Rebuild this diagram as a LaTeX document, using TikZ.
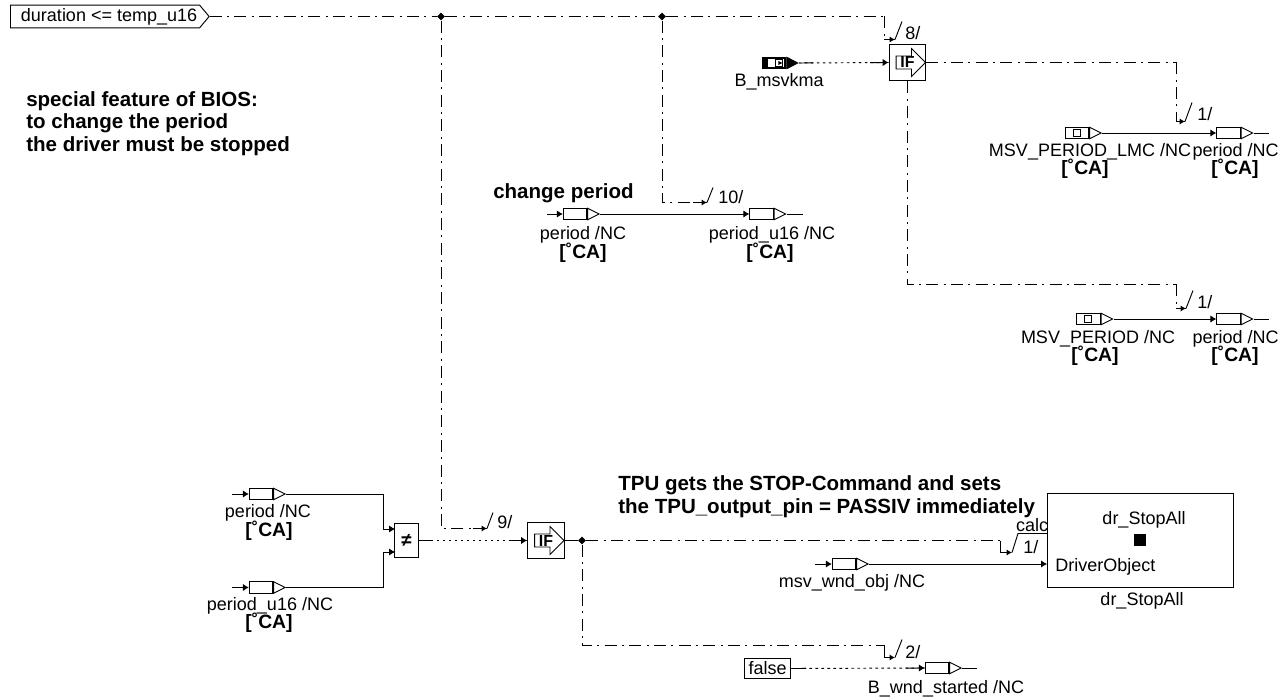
\documentclass[tikz,border=0pt]{standalone}
\usepackage{fontspec}
\setmainfont{Liberation Sans}
\usetikzlibrary{arrows.meta,positioning,shapes.geometric,shapes.symbols,shapes.arrows}
\tikzset{
  txt/.style={font=\fontsize{13.5}{15}\selectfont,inner sep=0pt,yshift=-1.2pt},
  boldtxt/.style={font=\bfseries\fontsize{15.4}{17}\selectfont,inner sep=0pt,align=left},
  unit/.style={font=\bfseries\fontsize{14.5}{16}\selectfont,inner sep=0pt,yshift=-0.7pt},
  sigrect/.style={draw=black,fill=white,line width=0.7pt,minimum width=17.5pt,minimum height=8.6pt,inner sep=0pt},
  sigtip/.style={draw=black,fill=white,line width=0.7pt,isosceles triangle,isosceles triangle stretches,
    minimum width=8.6pt,minimum height=8.6pt,inner sep=0pt,anchor=lower side},
  smallsq/.style={draw=black,fill=white,line width=0.5pt,minimum size=5.5pt,inner sep=0pt},
  blockbox/.style={draw=black,fill=white,line width=0.8pt,minimum width=27.5pt,minimum height=27.5pt,inner sep=0pt},
  ifarrow/.style={draw=black,fill=white,line width=0.6pt,single arrow,single arrow head extend=5pt,
    minimum height=22pt,minimum width=21pt,inner sep=0pt,font=\bfseries\fontsize{12}{13}\selectfont},
  junction/.style={diamond,fill=black,minimum size=6pt,inner sep=0pt},
  solidflow/.style={-{Latex[length=4.5pt,width=5.5pt]},draw=black,line width=0.7pt},
  tailflow/.style={draw=black,line width=0.7pt},
  ctrlflow/.style={draw=black,line width=0.7pt,dash pattern=on 9pt off 4pt on 1.5pt off 4pt},
  seqtip/.style={-{Latex[length=4pt,width=4.5pt]},draw=black,line width=0.7pt},
  seqslash/.style={draw=black,line width=0.7pt},
  dotflow/.style={-{Latex[length=4.5pt,width=5.5pt]},draw=black,line width=0.7pt,dash pattern=on 2pt off 2.5pt,
    postaction={draw,solid,-,shorten >=#1pt-11pt},
    postaction={draw,solid,-,shorten <=#1pt-14pt}}
}
\begin{document}
\begin{tikzpicture}[x=0.75pt,y=-0.75pt]
\useasboundingbox (0,0) rectangle (1287,698);
% top input and its branches
\node[draw=black,line width=0.7pt,signal,signal to=east,signal pointer angle=100,minimum width=149pt,minimum height=17pt,
  inner sep=0pt,font=\fontsize{13.5}{15}\selectfont,anchor=west] (duration) at (10,16.5) {\hspace*{6pt}duration <= temp\_u16};
\node[boldtxt,anchor=north west] (biosnote) at (26,91) {special feature of BIOS:\\to change the period\\the driver must be stopped};
\node[junction] (jleft) at (441,16.5) {};
\node[junction] (jmid) at (662,16.5) {};
\coordinate (topend) at (884.5,16.5);
\draw[ctrlflow] (duration.east)--(jleft);
\draw[ctrlflow] (jleft)--(jmid);
\draw[ctrlflow] (jmid)--(topend);
% first IF block
\coordinate (tick8) at (895,39.5);
\draw[ctrlflow] (topend)|-(tick8);
\draw[seqtip] (tick8)++(-11,0)--(tick8);
\draw[seqslash] (tick8)--++(7,-18);
\node[txt,anchor=west] (seq8) at (905,31) {8/};
\node[blockbox] (iftop) at (907.5,62.5) {};
\node[ifarrow] (iftopa) at (907.5,62.5) {IF};
\node[draw=black,fill=white,line width=1.5pt,minimum width=17pt,minimum height=8pt,inner sep=0pt] (bmsv) at (774,63) {};
\node[fill=black,minimum width=5pt,minimum height=9pt,inner sep=0pt] (bmsvk) at (765,63) {};
\node[draw=black,fill=black,isosceles triangle,isosceles triangle stretches,minimum width=9pt,minimum height=8.6pt,inner sep=0pt,anchor=lower side] (bmsvt) at (bmsv.east) {};
\node[smallsq] (bmsvs) at (779,63) {};
\node[fill=black,isosceles triangle,isosceles triangle stretches,minimum width=3pt,minimum height=3pt,inner sep=0pt] (bmsva) at (779.5,63) {};
\node[txt] (bmsvl) at (779,80) {B\_msvkma};
\draw[dotflow=67.5] (bmsvt.apex)--(iftop.west);
% upper right output
\coordinate (ifright) at (1176.5,62.5);
\coordinate (tick1a) at (1185,121.5);
\draw[ctrlflow] (iftop.east)--(ifright);
\draw[ctrlflow] (ifright)|-(tick1a);
\draw[seqtip] (tick1a)++(-9,0)--(tick1a);
\draw[seqslash] (tick1a)--++(7,-19);
\node[txt,anchor=west] (seq1a) at (1197,112) {1/};
\node[sigrect] (lmc) at (1077,133) {};
\node[sigtip] (lmct) at (lmc.east) {};
\node[smallsq] (lmcs) at (1077,133) {};
\node[txt] (lmcl) at (1090,150) {MSV\_PERIOD\_LMC /NC};
\node[unit] (lmcu) at (1085,168) {[˚CA]};
\node[sigrect] (pera) at (1228.5,133) {};
\node[sigtip] (perat) at (pera.east) {};
\coordinate (peraend) at (1269,133);
\node[txt] (peral) at (1235.5,150) {period /NC};
\node[unit] (perau) at (1235,168) {[˚CA]};
\draw[solidflow] (lmct.apex)--(pera.west);
\draw[tailflow] (perat.apex)--(peraend);
% lower right output
\coordinate (ifdown) at (907.5,284.5);
\coordinate (ifdownr) at (1176.5,284.5);
\coordinate (tick1b) at (1186,308.5);
\draw[ctrlflow] (iftop.south)--(ifdown)--(ifdownr);
\draw[ctrlflow] (ifdownr)|-(tick1b);
\draw[seqtip] (tick1b)++(-10,0)--(tick1b);
\draw[seqslash] (tick1b)--++(7,-18);
\node[txt,anchor=west] (seq1b) at (1197,300) {1/};
\node[sigrect] (msv) at (1088.5,319) {};
\node[sigtip] (msvt) at (msv.east) {};
\node[smallsq] (msvs) at (1088,319) {};
\node[txt] (msvl) at (1098,337) {MSV\_PERIOD /NC};
\node[unit] (msvu) at (1095,355) {[˚CA]};
\node[sigrect] (perb) at (1228.5,319) {};
\node[sigtip] (perbt) at (perb.east) {};
\coordinate (perbend) at (1269,319);
\node[txt] (perbl) at (1235.5,337) {period /NC};
\node[unit] (perbu) at (1235,355) {[˚CA]};
\draw[solidflow] (msvt.apex)--(perb.west);
\draw[tailflow] (perbt.apex)--(perbend);
% change period
\node[boldtxt,anchor=west] (chg) at (493,193.5) {change period};
\coordinate (tick10) at (707,202.5);
\draw[ctrlflow] (jmid)|-(tick10);
\draw[seqtip] (tick10)++(-14,0)--(tick10);
\draw[seqslash] (tick10)--++(6,-15);
\node[txt,anchor=west] (seq10) at (718,195) {10/};
\coordinate (perin) at (547,214);
\node[sigrect] (perc) at (575,214) {};
\node[sigtip] (perct) at (perc.east) {};
\node[txt] (percl) at (583,233) {period /NC};
\node[unit] (percu) at (583,251.5) {[˚CA]};
\node[sigrect] (peru) at (761.5,214) {};
\node[sigtip] (perut) at (peru.east) {};
\coordinate (peruend) at (803,214);
\node[txt] (perul) at (772,233) {period\_u16 /NC};
\node[unit] (peruu) at (770,251.5) {[˚CA]};
\draw[solidflow] (perin)--(perc.west);
\draw[solidflow] (perct.apex)--(peru.west);
\draw[tailflow] (perut.apex)--(peruend);
% compare block
\coordinate (cmpina) at (232,494);
\node[sigrect] (cmpa) at (261,494) {};
\node[sigtip] (cmpat) at (cmpa.east) {};
\node[txt] (cmpal) at (268,511) {period /NC};
\node[unit] (cmpau) at (269,530) {[˚CA]};
\coordinate (cmpinb) at (232,587.5);
\node[sigrect] (cmpb) at (261,587.5) {};
\node[sigtip] (cmpbt) at (cmpb.east) {};
\node[txt] (cmpbl) at (270,604) {period\_u16 /NC};
\node[unit] (cmpbu) at (269,622) {[˚CA]};
\node[draw=black,fill=white,line width=0.8pt,minimum width=17.5pt,minimum height=26pt,inner sep=0pt,font=\bfseries\fontsize{14}{14}\selectfont] (neq) at (406.5,540.5) {≠};
\coordinate (neqa) at (395,529);
\coordinate (neqb) at (395,552);
\coordinate (benda) at (383.5,494);
\coordinate (bendaa) at (383.5,529);
\coordinate (bendb) at (383.5,587.5);
\coordinate (bendbb) at (383.5,552);
\draw[solidflow] (cmpina)--(cmpa.west);
\draw[solidflow] (cmpinb)--(cmpb.west);
\draw[solidflow] (cmpat.apex)--(benda)--(bendaa)--(neqa);
\draw[solidflow] (cmpbt.apex)--(bendb)--(bendbb)--(neqb);
% second IF block
\node[blockbox] (ifbot) at (546,540.5) {};
\node[ifarrow] (ifbota) at (546,540.5) {IF};
\draw[dotflow=82] (neq.east)--(ifbot.west);
\coordinate (tick9) at (487,528.5);
\draw[ctrlflow] (jleft)|-(tick9);
\draw[seqtip] (tick9)++(-14,0)--(tick9);
\draw[seqslash] (tick9)--++(6,-16);
\node[txt,anchor=west] (seq9) at (497,520) {9/};
\node[junction] (jbot) at (582,540.5) {};
\draw[tailflow] (ifbot.east)--(jbot);
% driver block
\node[boldtxt,anchor=west] (tpunote) at (618,496.5) {TPU gets the STOP-Command and sets\\the TPU\_output\_pin = PASSIV immediately};
\node[draw=black,fill=white,line width=0.8pt,minimum width=140pt,minimum height=70pt,inner sep=0pt] (driver) at (1140.5,540.5) {};
\node[txt] (drvt) at (1144,518) {dr\_StopAll};
\node[fill=black,minimum size=9.5pt,inner sep=0pt] (drvq) at (1140,540) {};
\node[txt,anchor=west] (drvo) at (1055,565) {DriverObject};
\node[txt] (drvb) at (1142,599) {dr\_StopAll};
\node[txt] (calc) at (1032,523) {calc};
\coordinate (calcin) at (1047,533.5);
\coordinate (ctrlend) at (1000.5,540.5);
\coordinate (tick1c) at (1012,552.5);
\coordinate (slashtop) at (1018,533.5);
\draw[ctrlflow] (jbot)--(ctrlend);
\draw[ctrlflow] (ctrlend)|-(tick1c);
\draw[seqtip] (tick1c)++(-11,0)--(tick1c);
\draw[seqslash] (tick1c)--(slashtop)--(calcin);
\node[txt,anchor=west] (seq1c) at (1023,545) {1/};
\coordinate (wndin) at (815,564);
\node[sigrect] (wnd) at (844,564) {};
\node[sigtip] (wndt) at (wnd.east) {};
\node[txt] (wndl) at (852,581) {msv\_wnd\_obj /NC};
\coordinate (wndend) at (1047,564);
\draw[solidflow] (wndin)--(wnd.west);
\draw[solidflow] (wndt.apex)--(wndend);
% false branch
\coordinate (botbend) at (582,645.5);
\coordinate (botend) at (884.5,645.5);
\coordinate (tick2) at (895,657.5);
\draw[ctrlflow] (jbot)--(botbend)--(botend);
\draw[ctrlflow] (botend)|-(tick2);
\draw[seqtip] (tick2)++(-11,0)--(tick2);
\draw[seqslash] (tick2)--++(7,-18);
\node[txt,anchor=west] (seq2) at (905,650) {2/};
\node[draw=black,line width=0.8pt,minimum width=35pt,minimum height=15.5pt,inner sep=0pt,font=\fontsize{13.5}{15}\selectfont] (false) at (767.5,668.5) {false};
\node[sigrect] (wstart) at (937,668) {};
\node[sigtip] (wstartt) at (wstart.east) {};
\coordinate (wstartend) at (977,668);
\node[txt] (wstartl) at (946,687) {B\_wnd\_started /NC};
\draw[dotflow=100] (false.east)--(wstart.west);
\draw[tailflow] (wstartt.apex)--(wstartend);
\end{tikzpicture}
\end{document}
